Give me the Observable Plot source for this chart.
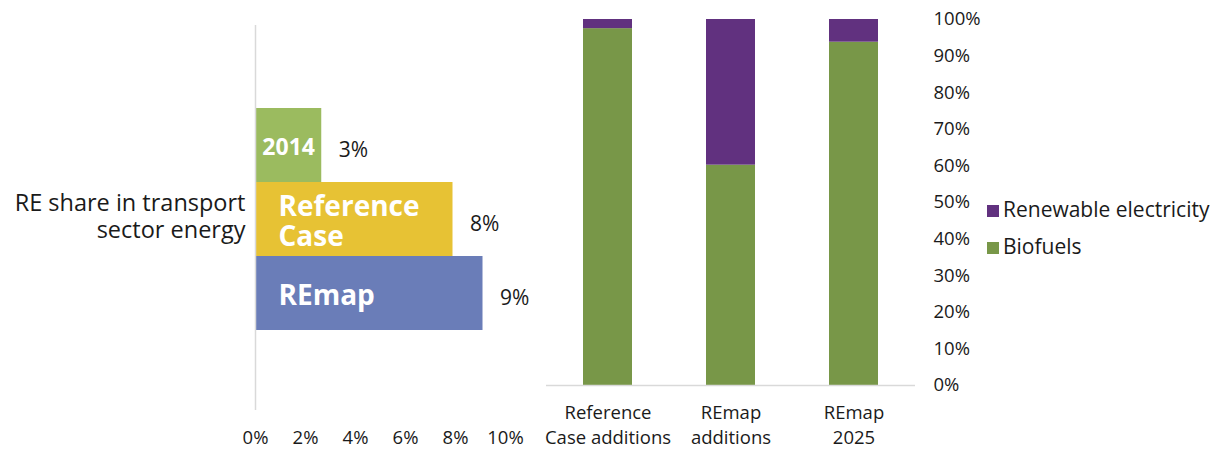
<!DOCTYPE html>
<html><head><meta charset="utf-8">
<script src="https://cdn.jsdelivr.net/npm/d3@7"></script>
<script src="https://cdn.jsdelivr.net/npm/@observablehq/plot@0.6"></script>
<style>
body{margin:0;background:#fff;}
#root{position:relative;width:1213px;height:449px;overflow:hidden;font-family:"Open Sans", sans-serif;color:#1a1a1a}
#left{position:absolute;left:0;top:0}
#right{position:absolute;left:540px;top:0}
#legend{position:absolute;left:987px;top:0}
.item{position:absolute;left:0;display:flex;align-items:center;white-space:nowrap;font-size:21px;line-height:22px}
.sw{display:inline-block;width:12px;height:12px;margin-right:4px;margin-top:3px}
</style></head><body><div id="root"><div id="left"></div><div id="right"></div><div id="legend"></div></div>
<script>
// ---- Left chart data ----
const scenarios = ["2014", "Reference Case", "REmap"];
const shareValues = [2.65, 7.9, 9.1];
const shareLabels = ["3%", "8%", "9%"];
const insideLabels = ["2014", "Reference\nCase", "REmap"];
const scenarioColors = ["#9bbb5f", "#e7c234", "#6a7db8"];
const categoryLabel = "RE share in transport\nsector energy";
const shareTicks = [0, 2, 4, 6, 8, 10];

// ---- Right chart data ----
const mixCategories = ["Reference Case additions", "REmap additions", "REmap 2025"];
const mixTickLabels = ["Reference\nCase additions", "REmap\nadditions", "REmap\n2025"];
const mixSeries = ["Biofuels", "Renewable electricity"];
const biofuels = [97.5, 60.2, 93.8];
const renewableElectricity = [2.5, 39.8, 6.2];
const mixColors = ["#789748", "#61317f"];
const mixTicks = [0, 10, 20, 30, 40, 50, 60, 70, 80, 90, 100];
const legendOrder = ["Renewable electricity", "Biofuels"];

const font = "'Open Sans', sans-serif";
const ink = "#1a1a1a";
const tickSize = 18.5;

// ---- Left chart ----
const shares = scenarios.map((s, i) => ({scenario: s, value: shareValues[i], label: shareLabels[i], inside: insideLabels[i]}));

const left = Plot.plot({
  width: 540, height: 449,
  marginLeft: 255, marginRight: 35, marginTop: 25, marginBottom: 39,
  style: {fontFamily: font, color: ink, background: "transparent"},
  x: {domain: [0, 10], label: null, axis: null},
  y: {domain: scenarios, range: [107, 330], padding: 0, axis: null, label: null},
  color: {domain: scenarios, range: scenarioColors},
  marks: [
    Plot.barX(shares, {x: "value", y: "scenario", fill: "scenario"}),
    Plot.ruleX([0], {stroke: "#d9d9d9", strokeWidth: 1.5}),
    Plot.axisX({ticks: shareTicks, tickFormat: d => d + "%", tickSize: 0, tickPadding: 20, fontSize: tickSize, fill: ink, label: null}),
    Plot.text(shares.filter(d => d.scenario === "2014"), {x: d => d.value / 2, y: "scenario", text: "inside", fill: "white", fontWeight: "bold", fontSize: 23, dy: 2}),
    Plot.text(shares.filter(d => d.scenario !== "2014"), {x: 0, y: "scenario", text: "inside", fill: "white", fontWeight: "bold", fontSize: 28, textAnchor: "start", dx: 23, lineHeight: 1.07, dy: 2}),
    Plot.text(shares, {x: "value", y: "scenario", text: "label", textAnchor: "start", dx: 17, dy: 5, fontSize: 21, fill: ink}),
    Plot.text([categoryLabel], {frameAnchor: "left", textAnchor: "end", dx: -10, dy: -2, fontSize: 23.5, lineHeight: 1.15, fill: ink})
  ]
});
document.getElementById("left").appendChild(left);

// ---- Right chart ----
const mix = [];
mixCategories.forEach((c, i) => {
  mix.push({category: c, series: mixSeries[0], value: biofuels[i]});
  mix.push({category: c, series: mixSeries[1], value: renewableElectricity[i]});
});
const tickLabelOf = Object.fromEntries(mixCategories.map((c, i) => [c, mixTickLabels[i]]));

const right = Plot.plot({
  width: 445, height: 449,
  marginLeft: 6, marginRight: 70, marginTop: 19, marginBottom: 64,
  style: {fontFamily: font, color: ink, background: "transparent"},
  x: {domain: mixCategories, paddingInner: 0.6, paddingOuter: 0.3, label: null, axis: null},
  y: {domain: [0, 100], label: null, axis: null},
  color: {domain: mixSeries, range: mixColors},
  marks: [
    Plot.barY(mix, {x: "category", y: "value", fill: "series", order: mixSeries}),
    Plot.ruleY([0], {stroke: "#d9d9d9", strokeWidth: 1.5}),
    Plot.axisX({tickSize: 0, tickPadding: 16, fontSize: tickSize, fill: ink, tickFormat: d => tickLabelOf[d], lineHeight: 1.35, label: null}),
    Plot.axisY({anchor: "right", ticks: mixTicks, tickFormat: d => d + "%", tickSize: 0, tickPadding: 18, fontSize: tickSize, fill: ink, label: null})
  ]
});
document.getElementById("right").appendChild(right);

// ---- Legend ----
const legend = document.getElementById("legend");
const rowTops = [198, 235];
legendOrder.forEach((name, i) => {
  const row = document.createElement("div");
  row.className = "item";
  row.style.top = rowTops[i] + "px";
  const sw = document.createElement("span");
  sw.className = "sw";
  sw.style.background = mixColors[mixSeries.indexOf(name)];
  const tx = document.createElement("span");
  tx.textContent = name;
  row.appendChild(sw); row.appendChild(tx);
  legend.appendChild(row);
});
</script></body></html>
